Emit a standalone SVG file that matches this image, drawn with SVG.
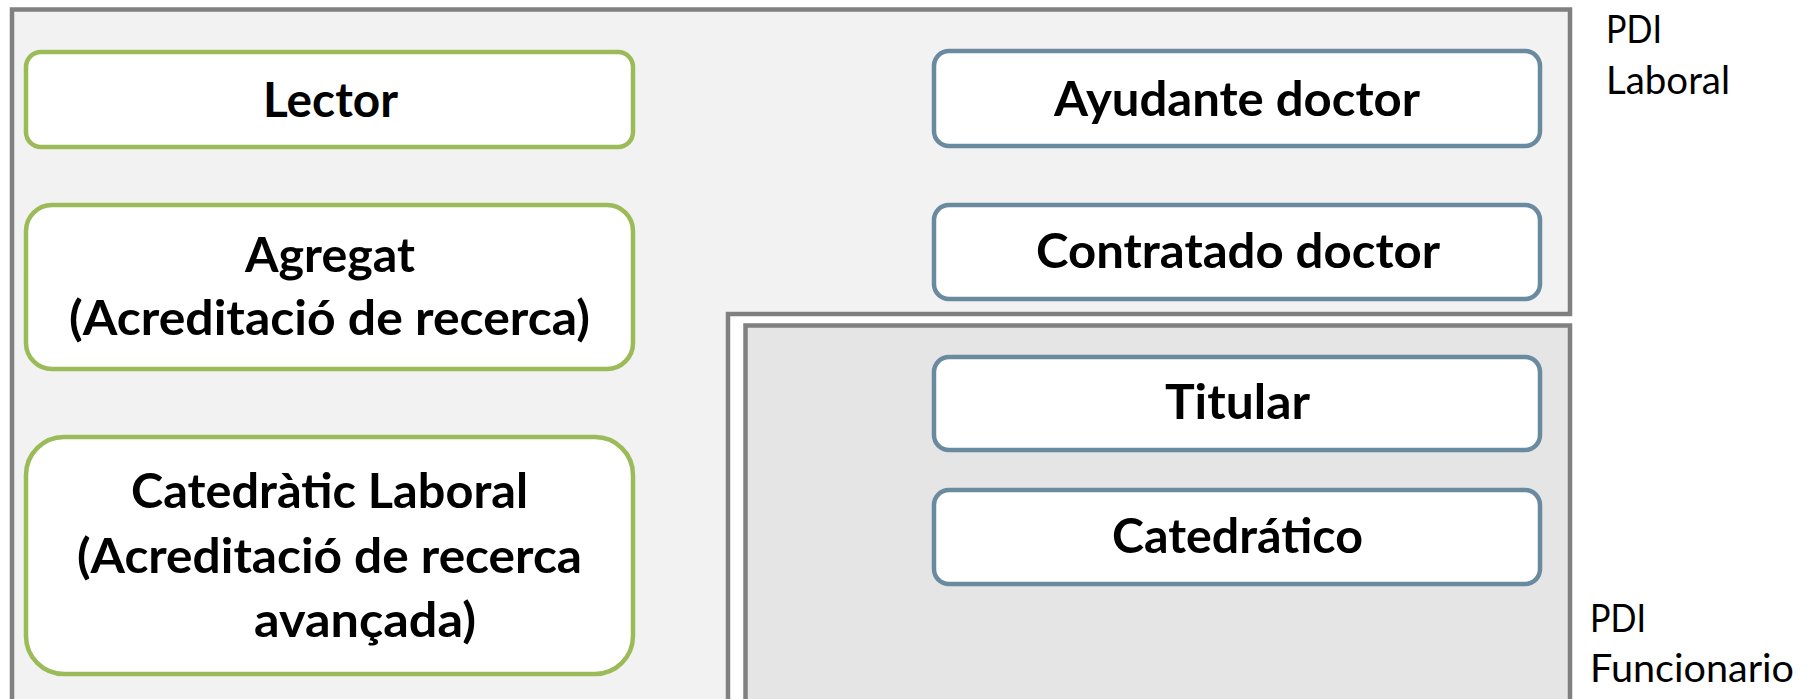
<svg xmlns="http://www.w3.org/2000/svg" width="1809" height="699" viewBox="0 0 1809 699">
<style>
  .frame { stroke: #808080; stroke-width: 4.5; }
  .lab { fill: #f2f2f2; }
  .fun { fill: #e5e5e5; }
  .g { fill: #ffffff; stroke: #9bbb59; stroke-width: 4.5; }
  .b { fill: #ffffff; stroke: #6a8aa0; stroke-width: 4.5; }
  .t { font-family: Lato, "Liberation Sans", sans-serif; font-weight: bold; font-size: 48px; fill: #000000; text-anchor: start; }
  .l { font-family: Lato, "Liberation Sans", sans-serif; font-size: 39px; fill: #000000; }
</style>
<rect x="0" y="0" width="1809" height="699" fill="#ffffff"/>
<g id="pdi-laboral">
  <path class="frame lab" d="M12,9.5 H1570 V314 H728 V720 H12 Z"/>
  <text class="l" x="1606" y="43" textLength="56" lengthAdjust="spacingAndGlyphs">PDI</text>
  <text class="l" x="1606" y="94" textLength="124" lengthAdjust="spacingAndGlyphs">Laboral</text>
</g>
<g id="pdi-funcionario">
  <rect class="frame fun" x="745.5" y="325.5" width="824.5" height="400"/>
  <text class="l" x="1590" y="632" textLength="56" lengthAdjust="spacingAndGlyphs">PDI</text>
  <text class="l" x="1590" y="682" textLength="204" lengthAdjust="spacingAndGlyphs">Funcionario</text>
</g>
<g id="connectors"></g>
<g id="lector">
  <rect class="g" x="26" y="52" width="607" height="95" rx="15"/>
  <text class="t" x="263" y="117" textLength="135" lengthAdjust="spacingAndGlyphs">Lector</text>
</g>
<g id="agregat">
  <rect class="g" x="26" y="205" width="607" height="164" rx="26"/>
  <text class="t" x="245" y="272" textLength="170" lengthAdjust="spacingAndGlyphs">Agregat</text>
  <text class="t" x="69" y="335" textLength="521" lengthAdjust="spacingAndGlyphs">(Acreditació de recerca)</text>
</g>
<g id="catedratic-laboral">
  <rect class="g" x="26" y="437" width="607" height="237" rx="38"/>
  <text class="t" x="131" y="508" textLength="397" lengthAdjust="spacingAndGlyphs">Catedràtic Laboral</text>
  <text class="t" x="77" y="573" textLength="505" lengthAdjust="spacingAndGlyphs">(Acreditació de recerca</text>
  <text class="t" x="254" y="637" textLength="222" lengthAdjust="spacingAndGlyphs">avançada)</text>
</g>
<g id="ayudante-doctor">
  <rect class="b" x="934" y="51" width="606" height="95" rx="15"/>
  <text class="t" x="1054" y="116" textLength="366" lengthAdjust="spacingAndGlyphs">Ayudante doctor</text>
</g>
<g id="contratado-doctor">
  <rect class="b" x="934" y="205" width="606" height="94" rx="15"/>
  <text class="t" x="1036" y="268" textLength="404" lengthAdjust="spacingAndGlyphs">Contratado doctor</text>
</g>
<g id="titular">
  <rect class="b" x="934" y="357" width="606" height="93" rx="15"/>
  <text class="t" x="1165" y="419" textLength="145" lengthAdjust="spacingAndGlyphs">Titular</text>
</g>
<g id="catedratico">
  <rect class="b" x="934" y="490" width="606" height="94" rx="15"/>
  <text class="t" x="1112" y="553" textLength="251" lengthAdjust="spacingAndGlyphs">Catedrático</text>
</g>
</svg>
